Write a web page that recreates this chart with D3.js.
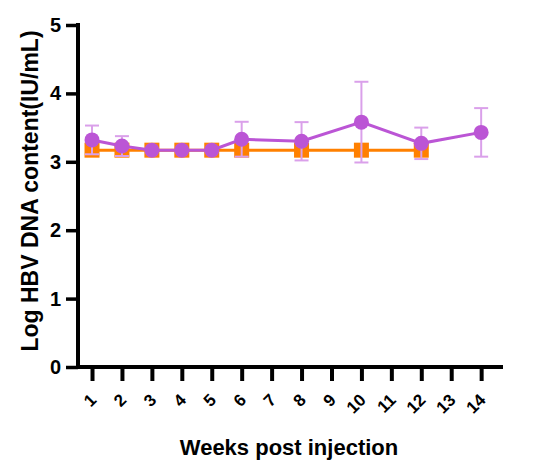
<!DOCTYPE html>
<html>
<head>
<meta charset="utf-8">
<style>
  body { margin: 0; background: #fff; }
  text { font-family: "Liberation Sans", Arial, sans-serif; font-weight: bold; }
</style>
</head>
<body>
<svg width="559" height="471"></svg>
<script src="https://d3js.org/d3.v7.min.js"></script>
<script>

var weekTicks = [1, 2, 3, 4, 5, 6, 7, 8, 9, 10, 11, 12, 13, 14],
    yTicks = [0, 1, 2, 3, 4, 5];

// orange group (squares)
var orangeWeeks = [1, 2, 3, 4, 5, 6, 8, 10, 12],
    orangeMean  = [3.17, 3.17, 3.17, 3.17, 3.17, 3.17, 3.17, 3.17, 3.17];

// purple group (circles), mean and SD
var purpleWeeks = [1, 2, 3, 4, 5, 6, 8, 10, 12, 14],
    purpleMean  = [3.32, 3.23, 3.17, 3.17, 3.17, 3.33, 3.30, 3.58, 3.27, 3.43],
    purpleSD    = [0.21, 0.145, 0, 0, 0, 0.255, 0.28, 0.59, 0.23, 0.355];

var svg = d3.select("svg");

var x = d3.scaleLinear().domain([0.465, 14.73]).range([76, 503]),
    y = d3.scaleLinear().domain([0, 5]).range([367, 25]);

var purple = "#bb55d5",
    purpleLight = "#daa0ea",
    orange = "#ff8000";

var orangeData = orangeWeeks.map(function(w, i) { return {w: w, m: orangeMean[i]}; });
var purpleData = purpleWeeks.map(function(w, i) { return {w: w, m: purpleMean[i], sd: purpleSD[i]}; });

var line = d3.line()
    .x(function(d) { return x(d.w); })
    .y(function(d) { return y(d.m); });

// orange series
svg.append("path")
    .datum(orangeData)
    .attr("fill", "none")
    .attr("stroke", orange)
    .attr("stroke-width", 3)
    .attr("d", line);

svg.append("g").selectAll("rect")
    .data(orangeData)
  .enter().append("rect")
    .attr("x", function(d) { return x(d.w) - 7.5; })
    .attr("y", function(d) { return y(d.m) - 7.5; })
    .attr("width", 15)
    .attr("height", 15)
    .attr("fill", orange);

// purple error bars
var err = svg.append("g")
    .attr("stroke", purpleLight)
    .attr("stroke-width", 2)
  .selectAll("g")
    .data(purpleData.filter(function(d) { return d.sd > 0; }))
  .enter().append("g");

err.append("line")
    .attr("x1", function(d) { return x(d.w); })
    .attr("x2", function(d) { return x(d.w); })
    .attr("y1", function(d) { return y(d.m - d.sd); })
    .attr("y2", function(d) { return y(d.m + d.sd); });

err.selectAll("line.cap")
    .data(function(d) { return [d.m - d.sd, d.m + d.sd].map(function(v) { return {w: d.w, v: v}; }); })
  .enter().append("line")
    .attr("class", "cap")
    .attr("x1", function(d) { return x(d.w) - 7; })
    .attr("x2", function(d) { return x(d.w) + 7; })
    .attr("y1", function(d) { return y(d.v); })
    .attr("y2", function(d) { return y(d.v); });

// purple series
svg.append("path")
    .datum(purpleData)
    .attr("fill", "none")
    .attr("stroke", purple)
    .attr("stroke-width", 3)
    .attr("d", line);

svg.append("g").selectAll("circle")
    .data(purpleData)
  .enter().append("circle")
    .attr("cx", function(d) { return x(d.w); })
    .attr("cy", function(d) { return y(d.m); })
    .attr("r", 7.5)
    .attr("fill", purple);

// y axis
var yAxis = svg.append("g")
    .attr("transform", "translate(78,0)")
    .call(d3.axisLeft(y).tickValues(yTicks).tickFormat(d3.format("d"))
      .tickSize(12).tickSizeOuter(0).tickPadding(5));
yAxis.select(".domain").attr("stroke", "#000").attr("stroke-width", 4)
    .attr("d", "M0," + (y(5) - 2) + "V" + (y(0) + 2));
yAxis.selectAll(".tick line").attr("stroke", "#000").attr("stroke-width", 3.5);
yAxis.selectAll(".tick text").attr("font-size", 20).attr("fill", "#000");

// x axis
var xAxis = svg.append("g")
    .attr("transform", "translate(0,367)")
    .call(d3.axisBottom(x).tickValues(weekTicks).tickSize(14).tickSizeOuter(0));
xAxis.select(".domain").attr("stroke", "#000").attr("stroke-width", 4)
    .attr("d", "M" + (x.range()[0]) + ",0H" + x.range()[1]);
xAxis.selectAll(".tick line").attr("stroke", "#000").attr("stroke-width", 4);
xAxis.selectAll(".tick text")
    .attr("font-size", 17).attr("fill", "#000")
    .attr("text-anchor", "end")
    .attr("y", 0).attr("dy", 0)
    .attr("transform", "translate(5,34) rotate(-45)");

// axis titles
svg.append("text")
    .attr("x", 289)
    .attr("y", 455)
    .attr("text-anchor", "middle")
    .attr("font-size", 22)
    .text("Weeks post injection");

svg.append("text")
    .attr("transform", "translate(38,191) rotate(-90)")
    .attr("text-anchor", "middle")
    .attr("font-size", 23)
    .text("Log HBV DNA content(IU/mL)");

</script>
</body>
</html>
